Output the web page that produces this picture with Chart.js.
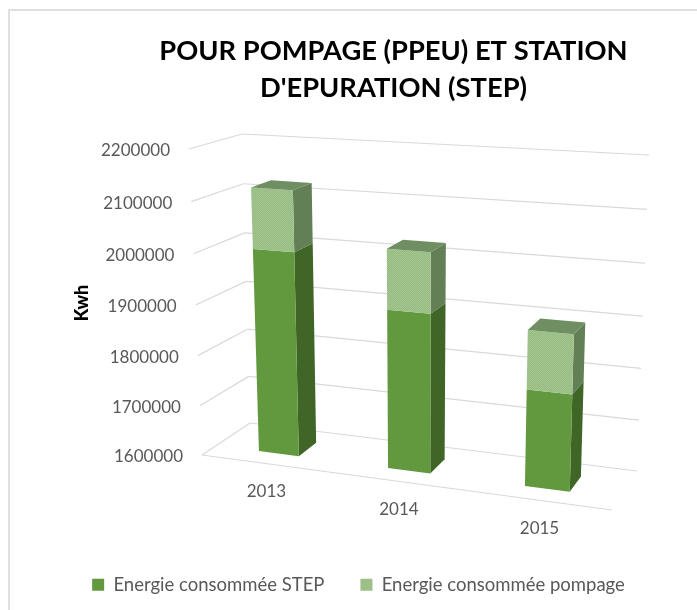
<!DOCTYPE html>
<html><head><meta charset="utf-8">
<style>html,body{margin:0;padding:0;background:#fff}canvas{display:block}</style>
<script src="https://cdn.jsdelivr.net/npm/chart.js@4"></script>
</head><body>
<canvas id="c" width="697" height="610"></canvas>
<script>
const years = ["2013", "2014", "2015"];
const energieStep = [2004000, 1909000, 1784000];
const energiePompage = [119000, 116000, 112000];
const titleLines = ["POUR POMPAGE (PPEU) ET STATION", "D'EPURATION (STEP)"];

const box = {
  fl0:[202,455], fl1:[189,149],
  fr0:[612,510], fr1:[623,175],
  bl0:[250,423], bl1:[242,134],
  br0:[637,471], br1:[649,155]
};
const warp = (t,k) => t/(1+k*(1-t));
const mix = (a,b,t) => [a[0]+(b[0]-a[0])*t, a[1]+(b[1]-a[1])*t];
function project(u,v,w){
  const U=warp(u,0.092), V=warp(v,0.04);
  const f0=mix(box.fl0,box.fr0,U), f1=mix(box.fl1,box.fr1,U);
  const b0=mix(box.bl0,box.br0,U), b1=mix(box.bl1,box.br1,U);
  return mix(mix(f0,b0,w), mix(f1,b1,w), V);
}
function poly(ctx,pts,fill){
  ctx.beginPath();
  pts.forEach((p,i)=> i?ctx.lineTo(p[0],p[1]):ctx.moveTo(p[0],p[1]));
  ctx.closePath(); ctx.fillStyle=fill; ctx.fill();
}
function line(ctx,a,b){ctx.beginPath();ctx.moveTo(a[0],a[1]);ctx.lineTo(b[0],b[1]);ctx.stroke();}
function stipple(ctx,a,b){
  const c=document.createElement("canvas");c.width=c.height=2;
  const g=c.getContext("2d");
  g.fillStyle=a;g.fillRect(0,0,2,2);
  g.fillStyle=b;g.fillRect(0,0,1,1);g.fillRect(1,1,1,1);
  return ctx.createPattern(c,"repeat");
}
const depth=[0.3,0.7];
const sideColors=["#3f6527","#627f56"];
const topColor="#6f8f62";

const box3d = {
  id:"box3d",
  afterLayout(chart){
    chart.titleBlock.left+=45; chart.titleBlock.right+=45;
    chart.legend.left+=10; chart.legend.right+=10;
  },
  beforeDraw(chart){
    const ctx=chart.ctx;
    ctx.save();
    ctx.fillStyle="#fff";ctx.fillRect(0,0,697,610);
    ctx.strokeStyle="#e0e0e0";ctx.lineWidth=2;
    ctx.beginPath();ctx.moveTo(9,610);ctx.lineTo(9,10);ctx.lineTo(697,10);ctx.stroke();
    ctx.restore();
  },
  beforeDatasetsDraw(chart){
    const ctx=chart.ctx, ys=chart.scales.y, xs=chart.scales.x, ca=chart.chartArea;
    const V=val=>(ca.bottom-ys.getPixelForValue(val))/(ca.bottom-ca.top);
    const Up=px=>(px-ca.left)/(ca.right-ca.left);
    const Vp=py=>Math.max(0,(ca.bottom-py)/(ca.bottom-ca.top));
    ctx.save();
    ctx.strokeStyle="#d9d9d9";ctx.lineWidth=1.2;
    ys.ticks.forEach(t=>{
      const v=V(t.value);
      const a=project(0,v,0),b=project(0,v,1),c=project(1,v,1);
      line(ctx,a,b);line(ctx,b,c);
    });
    line(ctx,project(0,0,0),project(1,0,0));
    ctx.fillStyle="#595959";ctx.font="17px Lato";ctx.textBaseline="middle";
    ctx.textAlign="right";
    ys.ticks.forEach(t=>{
      const p=project(0,V(t.value),0);
      ctx.fillText(t.label,p[0]-19,p[1]+1.5);
    });
    ctx.textAlign="center";
    xs.ticks.forEach((t,i)=>{
      const p=project(Up(xs.getPixelForTick(i)),0,0);
      ctx.fillText(t.label,p[0]+1,p[1]+28);
    });
    ctx.save();
    ctx.translate(82,303);ctx.rotate(-Math.PI/2);
    ctx.fillStyle="#000";ctx.font="900 18px Lato";
    ctx.fillText(ys.options.title.text,0,0);
    ctx.restore();
    const lightFace=stipple(ctx,"#97bc82","#a3c590");
    chart.data.datasets.forEach((ds,di)=>{
      const last=di===chart.data.datasets.length-1;
      chart.getDatasetMeta(di).data.forEach(el=>{
        const u0=Up(el.x-el.width/2),u1=Up(el.x+el.width/2);
        const v0=Vp(el.base),v1=Vp(el.y);
        const [w0,w1]=depth;
        poly(ctx,[project(u1,v0,w0),project(u1,v0,w1),project(u1,v1,w1),project(u1,v1,w0)],sideColors[di]);
        poly(ctx,[project(u0,v0,w0),project(u1,v0,w0),project(u1,v1,w0),project(u0,v1,w0)],last?lightFace:ds.backgroundColor);
        if(last)
          poly(ctx,[project(u0,v1,w0),project(u1,v1,w0),project(u1,v1,w1),project(u0,v1,w1)],topColor);
      });
    });
    ctx.restore();
    return false;
  }
};

new Chart(document.getElementById("c"),{
  type:"bar",
  data:{labels:years,datasets:[
    {label:"Energie consommée STEP",data:energieStep,backgroundColor:"#62993e",categoryPercentage:1,barPercentage:0.315},
    {label:"Energie consommée pompage",data:energiePompage,backgroundColor:"#9cc088",categoryPercentage:1,barPercentage:0.315}
  ]},
  plugins:[box3d],
  options:{
    responsive:false,animation:false,
    layout:{padding:{bottom:6}},
    plugins:{
      tooltip:{enabled:false},
      title:{display:true,text:titleLines,color:"#000",font:{family:"Lato",size:27.3,weight:"bold",lineHeight:1.35},padding:{top:33,bottom:10}},
      legend:{position:"bottom",labels:{boxWidth:12,boxHeight:12,padding:36,color:"#595959",font:{family:"Lato",size:18.5}}}
    },
    scales:{
      x:{display:false,stacked:true},
      y:{display:false,stacked:true,min:1600000,max:2200000,ticks:{stepSize:100000,callback:v=>String(v)},title:{text:"Kwh"}}
    }
  }
});
</script>
</body></html>
